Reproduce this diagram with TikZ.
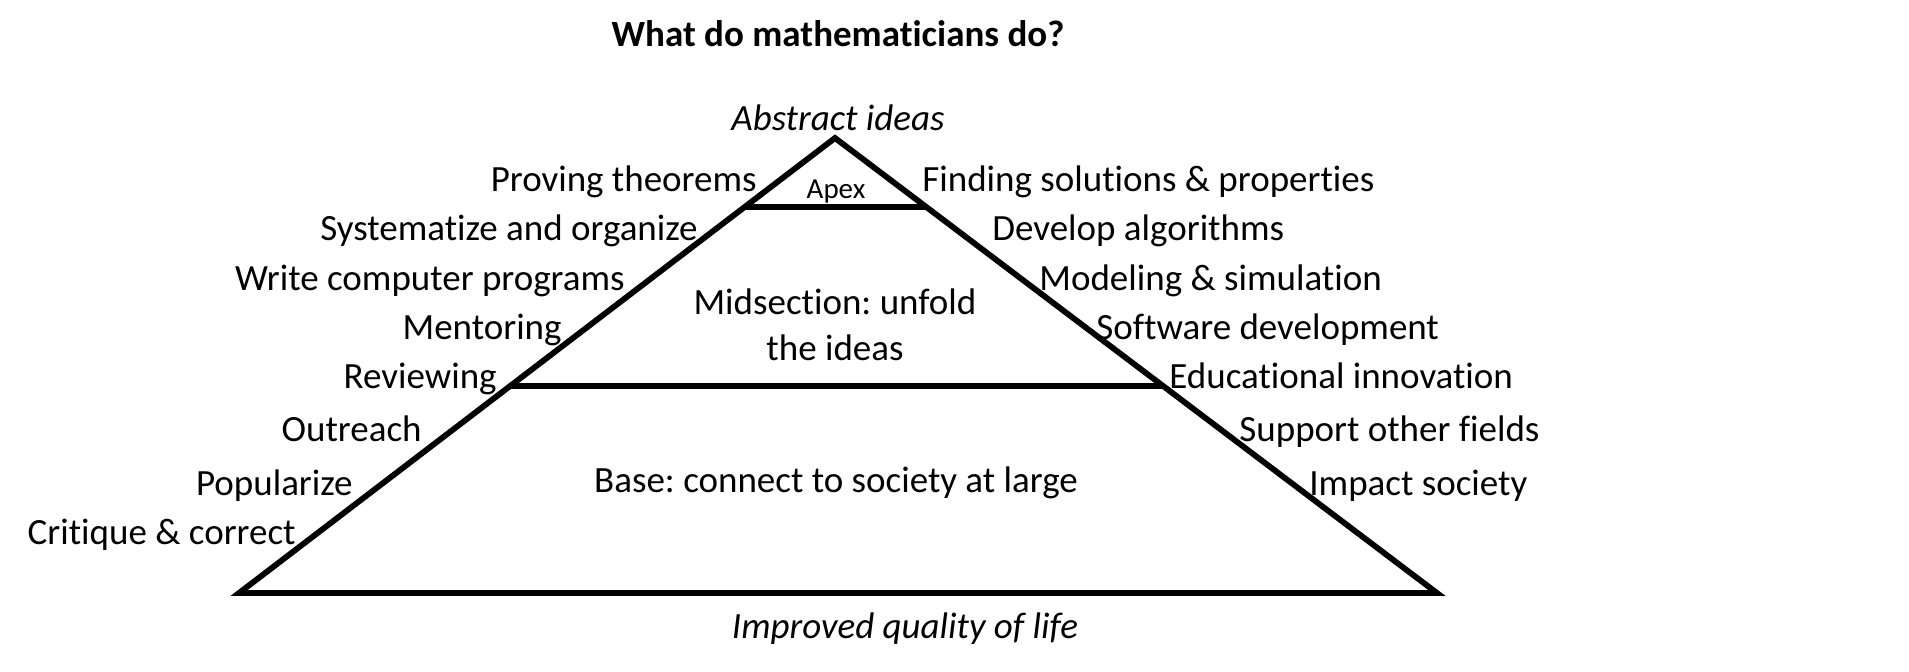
\documentclass[tikz,border=0pt]{standalone}
\usepackage{fontspec}
\setmainfont{Carlito}[Ligatures={NoCommon,NoRare}]
\frenchspacing
\usetikzlibrary{calc}

\tikzset{
  pyr/.style={line width=2.9pt},
  lbl/.style={font=\fontsize{18.5pt}{23pt}\selectfont, inner sep=0pt, align=center},
  lleft/.style={lbl, anchor=mid east},
  lright/.style={lbl, anchor=mid west},
}

\begin{document}
\begin{tikzpicture}[x=0.5pt,y=-0.5pt]
  \useasboundingbox (0,0) rectangle (1909,671);
  % pyramid corners
  \coordinate (top) at (835,138);
  \coordinate (bl) at (239,593);
  \coordinate (br) at (1437,593);
  \coordinate (apexl) at ($(top)!0.1516!(bl)$);
  \coordinate (apexr) at ($(top)!0.1516!(br)$);
  \coordinate (midl) at ($(top)!0.545!(bl)$);
  \coordinate (midr) at ($(top)!0.545!(br)$);
  \draw[pyr] (top) -- (bl) -- (br) -- cycle;
  \draw[pyr] (apexl) -- (apexr);
  \draw[pyr] (midl) -- (midr);

  \node[lbl, font=\fontsize{18.5pt}{23pt}\selectfont\bfseries] (title) at (838,34) {What do mathematicians do?};
  \node[lbl, font=\fontsize{18.5pt}{23pt}\selectfont\itshape] (abstract) at (838,118) {Abstract ideas};
  \node[lbl, font=\fontsize{18.5pt}{23pt}\selectfont\itshape] (life) at (905,629) {Improved quality of life};

  \node[lbl, font=\fontsize{14.5pt}{17pt}\selectfont, anchor=mid] (apex) at (836,194) {Apex};
  \node[lbl] (mid) at (835,325) {Midsection: unfold\\the ideas};
  \node[lbl, anchor=mid] (base) at (836,488) {Base: connect to society at large};

  % left side
  \node[lleft] (prove) at (757,187) {Proving theorems};
  \node[lleft] (system) at (698,236) {Systematize and organize};
  \node[lleft] (write) at (625,286) {Write computer programs};
  \node[lleft] (mentor) at (562,335) {Mentoring};
  \node[lleft] (review) at (497,384) {Reviewing};
  \node[lleft] (outreach) at (422,437) {Outreach};
  \node[lleft] (popular) at (353,491) {Popularize};
  \node[lleft] (critique) at (296,540) {Critique \& correct};

  % right side
  \node[lright] (finding) at (922,187) {Finding solutions \& properties};
  \node[lright] (algo) at (992,236) {Develop algorithms};
  \node[lright] (model) at (1039,286) {Modeling \& simulation};
  \node[lright] (soft) at (1096,335) {Software development};
  \node[lright] (edu) at (1169,384) {Educational innovation};
  \node[lright] (support) at (1239,437) {Support other fields};
  \node[lright] (impact) at (1309,491) {Impact society};
\end{tikzpicture}
\end{document}
